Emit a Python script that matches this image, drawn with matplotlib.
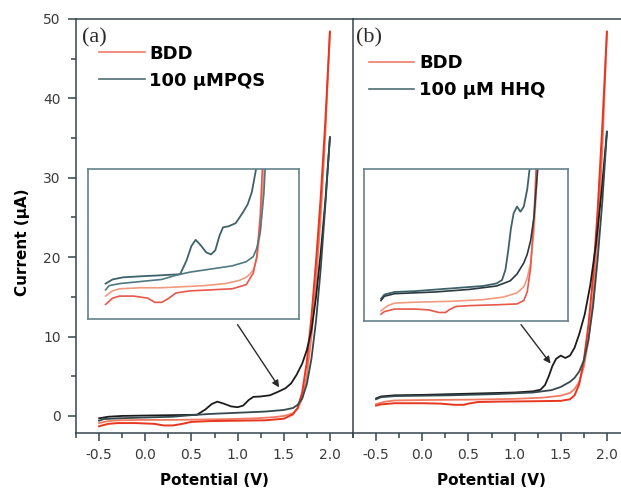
import matplotlib
matplotlib.use("Agg")
import matplotlib.pyplot as plt
from matplotlib.ticker import MultipleLocator, FixedLocator

plt.rcParams['font.family'] = ['DejaVu Sans']
plt.rcParams['axes.unicode_minus'] = False

# ---------------- data ----------------
# panel (a): BDD vs 100 uM PQS
a_red_fwd_v = [-0.5, -0.4, -0.3, 0.0, 0.3, 0.6, 0.9, 1.2, 1.4, 1.5, 1.55, 1.6, 1.65, 1.7, 1.75, 1.8, 1.85, 1.9, 1.95, 2.0]
a_red_fwd_i = [-0.9, -0.65, -0.55, -0.5, -0.5, -0.45, -0.4, -0.3, -0.15, 0.0, 0.15, 0.35, 0.9, 2.2, 5.0, 10.0, 17.0, 25.0, 35.5, 48.4]
a_red_rev_v = [2.0, 1.95, 1.9, 1.85, 1.8, 1.75, 1.7, 1.65, 1.6, 1.5, 1.3, 1.0, 0.7, 0.5, 0.4, 0.3, 0.2, 0.1, -0.1, -0.3, -0.4, -0.5]
a_red_rev_i = [48.4, 37.0, 27.5, 19.5, 12.5, 6.8, 3.0, 1.0, 0.2, -0.35, -0.55, -0.6, -0.65, -0.75, -1.0, -1.2, -1.2, -1.0, -0.9, -0.9, -1.0, -1.3]
a_blk_fwd_v = [-0.5, -0.4, -0.25, 0.0, 0.3, 0.56, 0.65, 0.72, 0.78, 0.85, 0.93, 1.0, 1.06, 1.12, 1.17, 1.25, 1.35, 1.45, 1.52, 1.58, 1.64, 1.7, 1.75, 1.8, 1.85, 1.9, 1.95, 2.0]
a_blk_fwd_i = [-0.3, -0.1, 0.0, 0.05, 0.1, 0.15, 0.8, 1.5, 1.8, 1.55, 1.2, 1.1, 1.3, 2.0, 2.4, 2.45, 2.6, 3.1, 3.5, 4.1, 5.2, 6.6, 8.3, 10.8, 15.0, 20.5, 27.0, 35.1]
a_blk_rev_v = [2.0, 1.95, 1.9, 1.85, 1.8, 1.75, 1.7, 1.65, 1.6, 1.5, 1.3, 1.0, 0.7, 0.5, 0.3, 0.0, -0.3, -0.45, -0.5]
a_blk_rev_i = [35.1, 26.5, 18.5, 12.0, 7.2, 4.0, 2.2, 1.4, 1.0, 0.75, 0.55, 0.4, 0.25, 0.1, -0.1, -0.2, -0.3, -0.4, -0.6]

# panel (b): BDD vs 100 uM HHQ
b_red_fwd_v = [-0.5, -0.4, -0.3, 0.0, 0.5, 1.0, 1.3, 1.5, 1.6, 1.65, 1.7, 1.75, 1.8, 1.85, 1.9, 1.95, 2.0]
b_red_fwd_i = [1.5, 1.8, 1.95, 2.0, 2.05, 2.15, 2.3, 2.55, 2.9, 3.4, 4.3, 6.2, 9.5, 15.0, 22.5, 33.5, 48.4]
b_red_rev_v = [2.0, 1.95, 1.9, 1.85, 1.8, 1.75, 1.7, 1.65, 1.6, 1.5, 1.2, 0.8, 0.6, 0.5, 0.45, 0.35, 0.2, 0.0, -0.3, -0.45, -0.5]
b_red_rev_i = [48.4, 36.5, 26.0, 17.5, 11.5, 7.0, 4.0, 2.6, 2.1, 1.9, 1.85, 1.8, 1.75, 1.55, 1.4, 1.4, 1.55, 1.6, 1.6, 1.45, 1.3]
b_blk_fwd_v = [-0.5, -0.45, -0.3, 0.0, 0.5, 1.0, 1.2, 1.28, 1.33, 1.37, 1.41, 1.45, 1.5, 1.55, 1.6, 1.65, 1.7, 1.76, 1.82, 1.88, 1.94, 2.0]
b_blk_fwd_i = [2.2, 2.45, 2.6, 2.65, 2.8, 2.95, 3.1, 3.3, 3.9, 5.0, 6.3, 7.2, 7.6, 7.3, 7.6, 8.6, 10.3, 12.8, 16.5, 21.5, 28.0, 35.8]
b_blk_rev_v = [2.0, 1.95, 1.9, 1.85, 1.8, 1.75, 1.7, 1.65, 1.6, 1.5, 1.4, 1.2, 0.8, 0.3, -0.3, -0.45, -0.5]
b_blk_rev_i = [35.8, 27.0, 19.8, 13.8, 9.6, 7.0, 5.6, 4.8, 4.3, 3.65, 3.25, 2.95, 2.75, 2.6, 2.5, 2.35, 2.1]

x_ticks = [-0.5, 0.0, 0.5, 1.0, 1.5, 2.0]
x_ticklabels = ['-0.5', '0.0', '0.5', '1.0', '1.5', '2.0']
y_ticks = [0, 10, 20, 30, 40, 50]
y_ticklabels = ['0', '10', '20', '30', '40', '50']
panel_labels = ['(a)', '(b)']
legend_labels = [['BDD', '100 \u03bcMPQS'], ['BDD', '100 \u03bcM HHQ']]
x_label = 'Potential (V)'
y_label = 'Current (\u03bcA)'
# annotation arrows (tail, head) in data units
arrows = [((1.00, 11.5), (1.45, 3.6)), ((1.07, 11.5), (1.39, 6.6))]
inset_ylims = [(-2.0, 5.2), (0.9, 9.8)]

# ---------------- styles ----------------
RED = '#e8361f'
RED2 = '#f07a62'
BLK = '#1c1c1c'
BLK2 = '#34494e'
INS_BLK = '#3e626a'
INS_BLK2 = '#2b3a3e'
SPINE = '#34464b'
TXT = '#3a3a3a'

fig = plt.figure(figsize=(6.21, 4.90), dpi=100)
W, H = 621.0, 490.0
ax_pos = [(76 / W, 57 / H, 277 / W, 414 / H), (353 / W, 57 / H, 277 / W, 414 / H)]
ins_pos = [(88 / W, 171 / H, 211 / W, 150 / H), (364 / W, 169 / H, 204 / W, 152 / H)]
leg_anchor = [(0.026, 0.977), (0.0, 0.955)]
lab_x = [0.022, 0.012]

panels = [
    (a_red_fwd_v, a_red_fwd_i, a_red_rev_v, a_red_rev_i, a_blk_fwd_v, a_blk_fwd_i, a_blk_rev_v, a_blk_rev_i),
    (b_red_fwd_v, b_red_fwd_i, b_red_rev_v, b_red_rev_i, b_blk_fwd_v, b_blk_fwd_i, b_blk_rev_v, b_blk_rev_i),
]

for k, data in enumerate(panels):
    rfv, rfi, rrv, rri, bfv, bfi, brv, bri = data
    ax = fig.add_axes(ax_pos[k])
    ax.set_xlim(-0.75, 2.25)
    ax.set_ylim(-2.15, 50)
    ax.plot(rfv, rfi, color=RED2, lw=1.3, zorder=2)
    ax.plot(rrv, rri, color=RED, lw=1.4, zorder=2)
    ax.plot(bfv, bfi, color=BLK, lw=1.3, zorder=3)
    ax.plot(brv, bri, color=BLK2, lw=1.3, zorder=3)

    for s in ax.spines.values():
        s.set_color(SPINE)
        s.set_linewidth(1.1)
    ax.spines['right'].set_visible(False)
    if k == 0:
        ax.yaxis.set_major_locator(FixedLocator(y_ticks))
        ax.set_yticklabels(y_ticklabels)
        ax.yaxis.set_minor_locator(MultipleLocator(5))
        ax.tick_params(axis='y', which='major', direction='out', length=6, width=1.1,
                       color=SPINE, labelsize=10, labelcolor=TXT, pad=5)
        ax.tick_params(axis='y', which='minor', direction='out', length=3.5, width=1.1, color=SPINE)
        ax.set_ylabel(y_label, fontsize=11, fontweight='bold')
        ax.yaxis.set_label_coords(-0.165, 0.46)
    else:
        ax.tick_params(axis='y', which='both', left=False, labelleft=False)
    ax.xaxis.set_major_locator(FixedLocator(x_ticks))
    ax.set_xticklabels(x_ticklabels)
    ax.xaxis.set_minor_locator(MultipleLocator(0.25))
    ax.tick_params(axis='x', which='major', direction='out', length=6, width=1.1,
                   color=SPINE, labelsize=10, labelcolor=TXT, pad=5)
    ax.tick_params(axis='x', which='minor', direction='out', length=3.5, width=1.1, color=SPINE)
    ax.set_xlabel(x_label, fontsize=11, fontweight='bold', labelpad=8)

    ax.text(lab_x[k], 0.978, panel_labels[k], transform=ax.transAxes,
            ha='left', va='top', fontsize=16, family=['Liberation Serif', 'DejaVu Serif'], color='#2a2a2a')

    h1 = plt.Line2D([], [], color='#ef7b6c', lw=1.2)
    h2 = plt.Line2D([], [], color='#4d6d74', lw=1.2)
    ax.legend([h1, h2], legend_labels[k], loc='upper left', bbox_to_anchor=leg_anchor[k],
              frameon=False, handlelength=2.5, handletextpad=0.25, labelspacing=0.5,
              prop={'family': 'DejaVu Sans', 'weight': 'bold', 'size': 13})

    (tx, ty), (hx, hy) = arrows[k]
    ax.annotate('', xy=(hx, hy), xytext=(tx, ty),
                arrowprops=dict(arrowstyle='-|>', color='#2a2a2a', lw=1.0, mutation_scale=10,
                                shrinkA=0, shrinkB=0), zorder=5)

    # inset: zoom of low-current region
    ins = fig.add_axes(ins_pos[k])
    ins.set_xlim(-0.75, 2.25)
    ins.set_ylim(*inset_ylims[k])
    ins.plot(rfv, rfi, color='#f29a80', lw=1.2)
    ins.plot(rrv, rri, color='#e8574a', lw=1.2)
    ins.plot(bfv, bfi, color=INS_BLK, lw=1.3)
    ins.plot(brv, bri, color=INS_BLK2 if k == 1 else '#4f7880', lw=1.2)
    ins.set_xticks([])
    ins.set_yticks([])
    for s in ins.spines.values():
        s.set_color('#62838a')
        s.set_linewidth(1.2)

fig.savefig('out.png', dpi=100)
